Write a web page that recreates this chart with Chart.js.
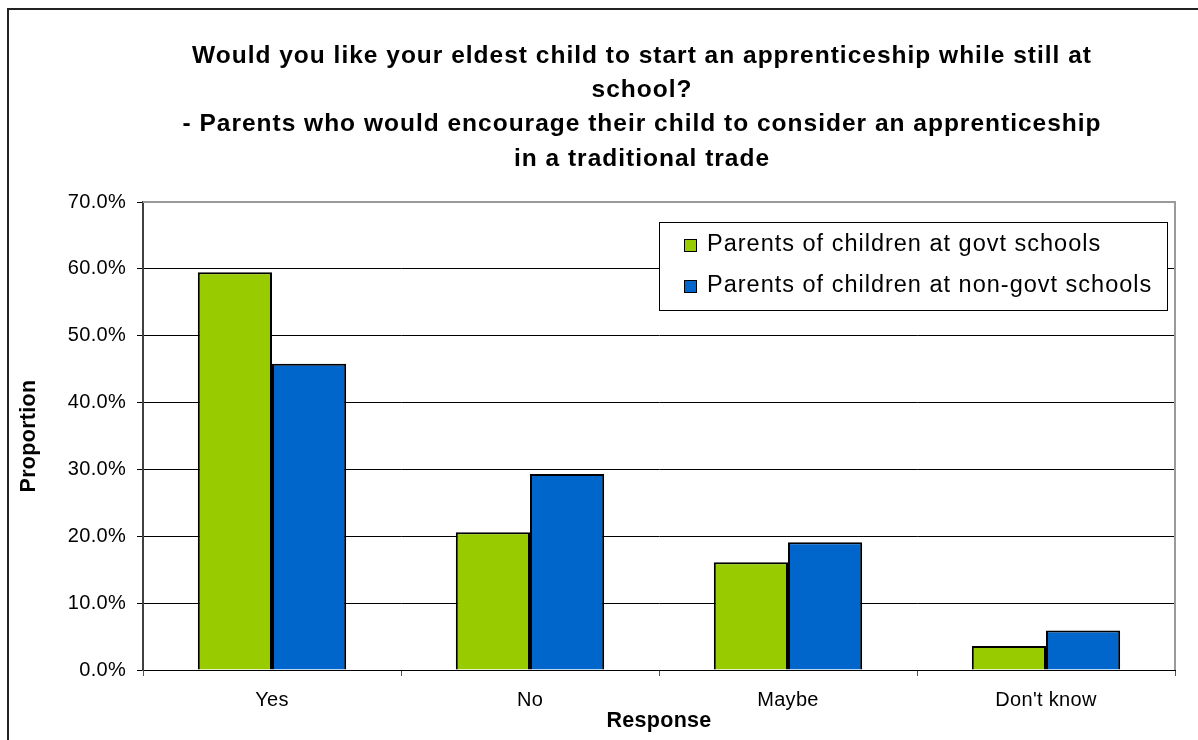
<!DOCTYPE html>
<html>
<head>
<meta charset="utf-8">
<title>Apprenticeship survey</title>
<script src="https://cdn.jsdelivr.net/npm/chart.js@4.4.1/dist/chart.umd.min.js"></script>
<style>
  html, body { margin: 0; padding: 0; background: #fff; }
  #wrap { width: 1198px; height: 740px; position: relative; }
</style>
</head>
<body>
<div id="wrap"><canvas id="myChart" width="1198" height="740"></canvas></div>
<script>
// data
const categories = ["Yes", "No", "Maybe", "Don't know"];
const govtSchools = [59.5, 20.6, 16.1, 3.6];
const nonGovtSchools = [45.8, 29.3, 19.1, 5.9];
const seriesNames = ["Parents of children at govt schools", "Parents of children at non-govt schools"];
const yTicks = [0, 10, 20, 30, 40, 50, 60, 70];
const titleLines = [
  "Would you like your eldest child to start an apprenticeship while still at",
  "school?",
  "- Parents who would encourage their child to consider an apprenticeship",
  "in a traditional trade",
];

const FONT = "'Liberation Sans', Arial, sans-serif";

// the original text is a touch wider than Liberation Sans
const spacing = {
  id: "spacing",
  beforeLayout(chart) { chart.ctx.letterSpacing = "0.3px"; },
  beforeDraw(chart) { chart.ctx.letterSpacing = "0.3px"; },
};

// white page + outer frame
const frame = {
  id: "frame",
  beforeDraw(chart) {
    const c = chart.ctx;
    c.save();
    c.fillStyle = "#fff";
    c.fillRect(0, 0, chart.width, chart.height);
    c.strokeStyle = "#222";
    c.lineWidth = 2;
    c.beginPath();
    c.moveTo(8, chart.height);
    c.lineTo(8, 9);
    c.lineTo(chart.width, 9);
    c.stroke();
    c.restore();
  },
};

// title drawn by hand so it can sit off-centre like the original
const bigTitle = {
  id: "bigTitle",
  afterDraw(chart) {
    const c = chart.ctx;
    c.save();
    c.fillStyle = "#000";
    c.font = "bold 24.5px " + FONT;
    c.letterSpacing = "1px";
    c.textAlign = "center";
    c.textBaseline = "middle";
    titleLines.forEach((line, i) => {
      c.fillText(line, 642, 56 + i * 34.3);
    });
    c.restore();
  },
};

// boxed legend in the upper right of the plot
const boxLegend = {
  id: "boxLegend",
  afterDraw(chart) {
    const c = chart.ctx;
    const x0 = 659, y0 = 222, w = 508, h = 88;
    c.save();
    c.fillStyle = "#fff";
    c.fillRect(x0, y0, w, h);
    c.strokeStyle = "#000";
    c.lineWidth = 1;
    c.strokeRect(x0 + 0.5, y0 + 0.5, w, h);
    c.font = "23.5px " + FONT;
    c.letterSpacing = "1px";
    c.textBaseline = "middle";
    chart.data.datasets.forEach((ds, i) => {
      const cy = y0 + 23 + i * 41;
      c.fillStyle = ds.backgroundColor;
      c.fillRect(684, cy - 6, 13, 13);
      c.strokeStyle = "#000";
      c.strokeRect(684.5, cy - 5.5, 12, 12);
      c.fillStyle = "#000";
      c.fillText(ds.label, 707, cy);
    });
    c.restore();
  },
};

// grey frame on top/right of the plot area
const plotEdge = {
  id: "plotEdge",
  beforeDatasetsDraw(chart) {
    const a = chart.chartArea;
    const c = chart.ctx;
    c.save();
    c.strokeStyle = "#9a9a9a";
    c.lineWidth = 2;
    c.beginPath();
    c.moveTo(a.left, a.top);
    c.lineTo(a.right, a.top);
    c.lineTo(a.right, a.bottom);
    c.stroke();
    c.restore();
  },
};

const ctx = document.getElementById("myChart").getContext("2d");
const myChart = new Chart(ctx, {
  type: "bar",
  data: {
    labels: categories,
    datasets: [
      {
        label: seriesNames[0],
        data: govtSchools,
        backgroundColor: "#99cc00",
        borderColor: "#000",
        borderWidth: 2,
      },
      {
        label: seriesNames[1],
        data: nonGovtSchools,
        backgroundColor: "#0066cc",
        borderColor: "#000",
        borderWidth: 2,
      },
    ],
  },
  options: {
    responsive: false,
    animation: false,
    layout: { padding: { top: 202, right: 23, left: 13, bottom: 0 } },
    datasets: { bar: { categoryPercentage: 0.575, barPercentage: 1 } },
    plugins: {
      legend: { display: false },
      title: { display: false },
      tooltip: { enabled: false },
    },
    scales: {
      x: {
        afterFit: (s) => { s.height = 70; },
        border: { color: "#000", width: 1 },
        grid: { drawOnChartArea: false, tickLength: 6, color: "#555" },
        ticks: { color: "#000", font: { family: FONT, size: 20 }, padding: 12 },
        title: {
          display: true,
          text: "Response",
          color: "#000",
          font: { family: FONT, size: 21.5, weight: "bold" },
          padding: { top: 0, bottom: 6 },
        },
      },
      y: {
        min: 0,
        max: 70,
        afterFit: (s) => { s.width = 143 - 13; },
        afterBuildTicks: (s) => { s.ticks = yTicks.map((v) => ({ value: v })); },
        border: { color: "#404040", width: 2 },
        grid: {
          color: (g) => (g.tick && g.tick.value === 70 ? "rgba(0,0,0,0)" : "#000"),
          tickColor: "#000",
          tickLength: 6,
          lineWidth: 1,
        },
        ticks: {
          color: "#000",
          font: { family: FONT, size: 20 },
          padding: 11,
          callback: (v) => v.toFixed(1) + "%",
        },
        title: {
          display: true,
          text: "Proportion",
          color: "#000",
          font: { family: FONT, size: 21.5, weight: "bold" },
          padding: { top: 3, bottom: 0 },
        },
      },
    },
  },
  plugins: [spacing, frame, plotEdge, bigTitle, boxLegend],
});
</script>
</body>
</html>
